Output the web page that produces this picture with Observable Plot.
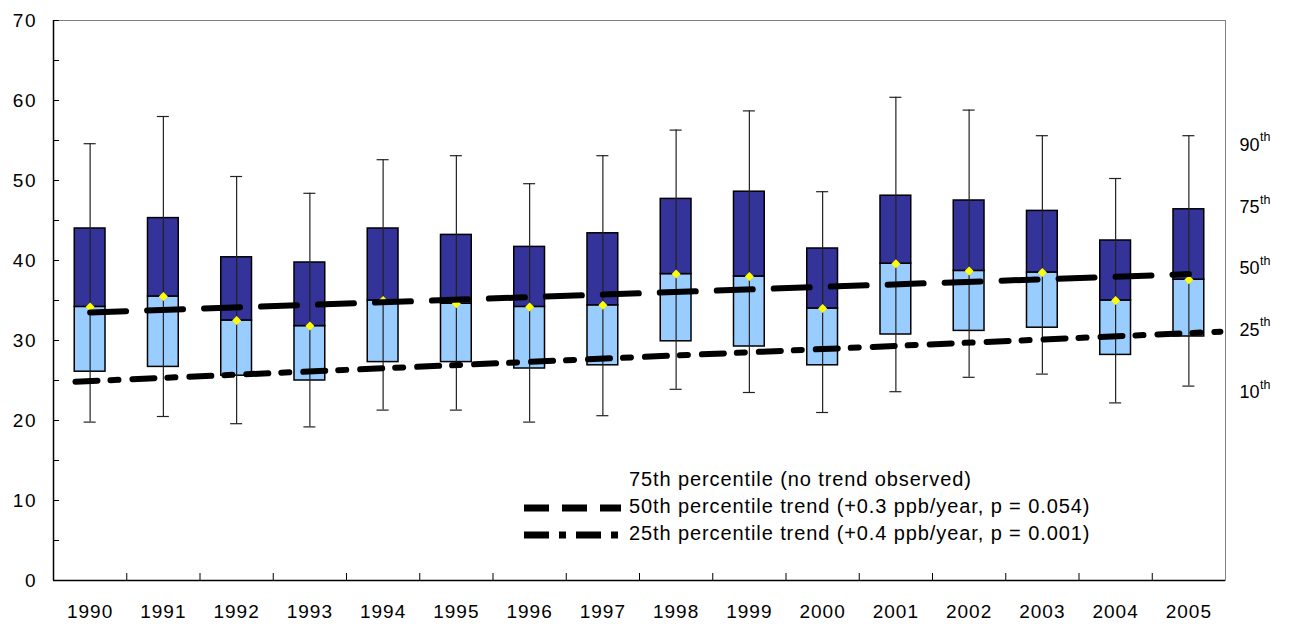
<!DOCTYPE html>
<html>
<head>
<meta charset="utf-8">
<script src="https://cdn.jsdelivr.net/npm/d3@7"></script>
<script src="https://cdn.jsdelivr.net/npm/@observablehq/plot@0.6"></script>
<style>
  body { margin: 0; background: #fff; font-family: Arial, "Liberation Sans", sans-serif; }
  #wrap { position: relative; width: 1290px; height: 624px; }
  #chart svg { display: block; }
  #chart g[aria-label="x-axis tick label"] { letter-spacing: 1px; }
  #chart g[aria-label="y-axis tick label"] { letter-spacing: 1.5px; }
  .lg { position: absolute; height: 27px; line-height: 27px; font-size: 20px; letter-spacing: 0.9px; color: #000; white-space: nowrap; }
  .lg svg { position: absolute; left: -105px; top: 10px; }
</style>
</head>
<body>
<div id="wrap">
  <div id="chart"></div>
</div>
<script>
// ---- data (ppb) ----
const years = [1990, 1991, 1992, 1993, 1994, 1995, 1996, 1997, 1998, 1999, 2000, 2001, 2002, 2003, 2004, 2005];
const p90 = [54.6, 58.0, 50.5, 48.4, 52.6, 53.1, 49.6, 53.1, 56.3, 58.7, 48.6, 60.4, 58.8, 55.6, 50.25, 55.6];
const p75 = [44.0, 45.3, 40.4, 39.75, 44.0, 43.2, 41.7, 43.4, 47.7, 48.6, 41.5, 48.1, 47.5, 46.2, 42.5, 46.4];
const p50 = [34.2, 35.5, 32.5, 31.8, 35.0, 34.6, 34.2, 34.4, 38.3, 38.0, 34.0, 39.6, 38.7, 38.5, 35.0, 37.6];
const p25 = [26.1, 26.7, 25.6, 25.0, 27.3, 27.3, 26.5, 26.9, 29.9, 29.25, 26.9, 30.75, 31.2, 31.6, 28.2, 30.5];
const p10 = [19.8, 20.5, 19.6, 19.2, 21.3, 21.3, 19.8, 20.6, 23.9, 23.5, 21.0, 23.6, 25.4, 25.8, 22.2, 24.3];

// trend lines (endpoints)
const trend50Years = [1990, 2005];
const trend50Values = [33.5, 38.3];
const trend25Years = [1989.8, 2005.43];
const trend25Values = [24.85, 31.1];

// right-hand percentile key
const pctNames = ["90", "75", "50", "25", "10"];
const pctY = [54.4, 46.6, 39.0, 31.3, 23.5];

// legend text
const legendItems = [
  {text: "75th percentile (no trend observed)", dash: null},
  {text: "50th percentile trend (+0.3 ppb/year, p = 0.054)", dash: "25,13"},
  {text: "25th percentile trend (+0.4 ppb/year, p = 0.001)", dash: "25,10,7,10"}
];

const yMajor = [0, 10, 20, 30, 40, 50, 60, 70];
const yMinor = [0, 5, 10, 15, 20, 25, 30, 35, 40, 45, 50, 55, 60, 65, 70];
// ---------------------------------------------

const rows = years.map((year, i) => ({year, p10: p10[i], p25: p25[i], p50: p50[i], p75: p75[i], p90: p90[i]}));
const boundaries = years.slice(0, -1).map(y => y + 0.5);
const trend50 = trend50Years.map((year, i) => ({year, value: trend50Values[i]}));
const trend25 = trend25Years.map((year, i) => ({year, value: trend25Values[i]}));
const pct = pctNames.map((label, i) => ({label, y: pctY[i]}));

const HW = 0.21;   // half box width (years)
const CW = 0.082;  // half cap width (years)

const squareDiamond = {
  draw(ctx, size) {
    const h = Math.sqrt(size / Math.PI);
    ctx.moveTo(0, -h); ctx.lineTo(h, 0); ctx.lineTo(0, h); ctx.lineTo(-h, 0); ctx.closePath();
  }
};

const chart = Plot.plot({
  width: 1290,
  height: 624,
  marginLeft: 53,
  marginRight: 65,
  marginTop: 20,
  marginBottom: 44,
  style: {fontFamily: "Arial, 'Liberation Sans', sans-serif", fontSize: "19px", color: "#000", background: "#fff"},
  x: {domain: [1989.5, 2005.5]},
  y: {domain: [0, 70]},
  marks: [
    Plot.frame({stroke: "#808080"}),
    Plot.axisY({ticks: yMajor, tickSize: 0, tickPadding: 16.5, label: null, fontSize: 19}),
    Plot.axisY({ticks: yMinor, tickSize: -6, tickFormat: () => "", label: null}),
    Plot.axisX({ticks: years, tickSize: 0, tickPadding: 24, tickFormat: d => String(d), label: null, fontSize: 19}),
    Plot.axisX({ticks: boundaries, tickSize: -7, tickFormat: () => "", label: null}),
    Plot.ruleY([0], {stroke: "#000", strokeWidth: 1.5}),
    Plot.ruleX([1989.5], {stroke: "#000", strokeWidth: 1.5}),
    Plot.rect(rows, {x1: d => d.year - HW, x2: d => d.year + HW, y1: "p25", y2: "p50", fill: "#99CCFF", stroke: "#000", strokeWidth: 1.5}),
    Plot.rect(rows, {x1: d => d.year - HW, x2: d => d.year + HW, y1: "p50", y2: "p75", fill: "#333399", stroke: "#000", strokeWidth: 1.5}),
    Plot.ruleX(rows, {x: "year", y1: "p10", y2: "p90", stroke: "#222", strokeWidth: 1.2}),
    Plot.ruleY(rows, {y: "p90", x1: d => d.year - CW, x2: d => d.year + CW, stroke: "#222", strokeWidth: 1.2}),
    Plot.ruleY(rows, {y: "p10", x1: d => d.year - CW, x2: d => d.year + CW, stroke: "#222", strokeWidth: 1.2}),
    Plot.dot(rows, {x: "year", y: "p50", symbol: squareDiamond, r: 4.5, fill: "#FFFF00", stroke: "none"}),
    Plot.line(trend50, {x: "year", y: "value", stroke: "#000", strokeWidth: 6, strokeDasharray: "36,21"}),
    Plot.line(trend25, {x: "year", y: "value", stroke: "#000", strokeWidth: 6, strokeDasharray: "22,13,8,14"}),
    Plot.text(pct, {text: "label", y: "y", frameAnchor: "right", textAnchor: "start", dx: 14, fontSize: 18}),
    Plot.text(pct, {text: () => "th", y: "y", frameAnchor: "right", textAnchor: "start", dx: 34.5, dy: -8, fontSize: 12.5})
  ]
});
document.getElementById("chart").appendChild(chart);

// legend overlay
const wrap = document.getElementById("wrap");
legendItems.forEach((item, i) => {
  const div = document.createElement("div");
  div.className = "lg";
  div.style.left = "629px";
  div.style.top = (466 + i * 27) + "px";
  div.textContent = item.text;
  if (item.dash) {
    const ns = "http://www.w3.org/2000/svg";
    const s = document.createElementNS(ns, "svg");
    s.setAttribute("width", "97");
    s.setAttribute("height", "10");
    const l = document.createElementNS(ns, "line");
    l.setAttribute("x1", "0"); l.setAttribute("x2", "97");
    l.setAttribute("y1", "5"); l.setAttribute("y2", "5");
    l.setAttribute("stroke", "#000");
    l.setAttribute("stroke-width", "7");
    l.setAttribute("stroke-dasharray", item.dash);
    s.appendChild(l);
    div.appendChild(s);
  }
  wrap.appendChild(div);
});
</script>
</body>
</html>
